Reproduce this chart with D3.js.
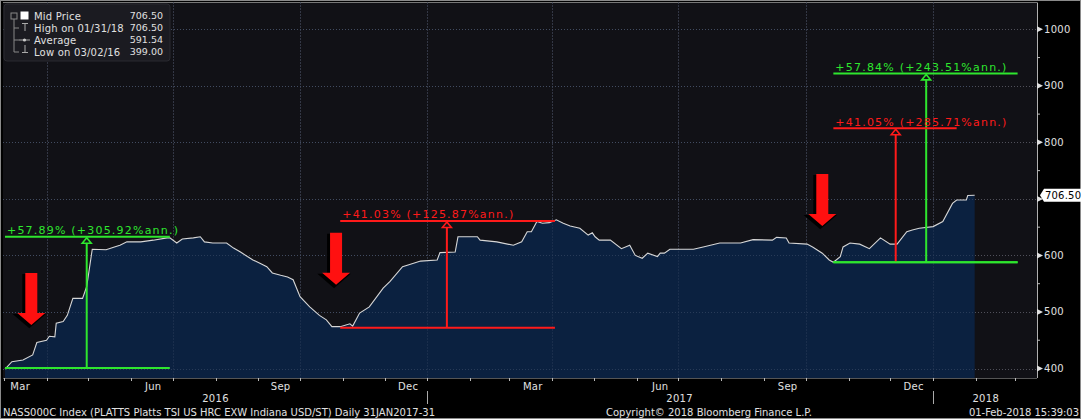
<!DOCTYPE html>
<html><head><meta charset="utf-8">
<script src="https://cdn.jsdelivr.net/npm/d3@7"></script>
<style>html,body{margin:0;padding:0;background:#000;overflow:hidden}svg{display:block}text{font-family:"DejaVu Sans",sans-serif}</style>
</head><body><svg id="c" width="1081" height="419"></svg>
<script>
// ---- data ----
const dates = ["2016-03-02","2016-03-07","2016-03-15","2016-03-22","2016-03-25","2016-04-01","2016-04-03","2016-04-07","2016-04-08","2016-04-13","2016-04-16","2016-04-20","2016-04-27","2016-04-30","2016-05-04","2016-05-14","2016-05-20","2016-05-24","2016-05-29","2016-06-08","2016-06-17","2016-06-27","2016-06-29","2016-07-04","2016-07-08","2016-07-16","2016-07-21","2016-07-24","2016-07-30","2016-08-09","2016-08-14","2016-08-19","2016-08-24","2016-08-28","2016-09-02","2016-09-07","2016-09-11","2016-09-17","2016-09-22","2016-09-26","2016-10-01","2016-10-08","2016-10-15","2016-10-20","2016-10-24","2016-10-30","2016-11-06","2016-11-08","2016-11-13","2016-11-20","2016-11-30","2016-12-05","2016-12-14","2016-12-18","2016-12-27","2017-01-08","2017-01-10","2017-01-21","2017-01-23","2017-02-06","2017-02-08","2017-02-20","2017-03-04","2017-03-10","2017-03-14","2017-03-17","2017-03-21","2017-03-25","2017-03-30","2017-04-04","2017-04-09","2017-04-14","2017-04-21","2017-04-27","2017-04-30","2017-05-02","2017-05-05","2017-05-13","2017-05-21","2017-05-27","2017-05-31","2017-06-05","2017-06-09","2017-06-16","2017-06-18","2017-06-21","2017-06-25","2017-07-12","2017-07-19","2017-07-31","2017-08-15","2017-08-24","2017-09-07","2017-09-10","2017-09-17","2017-09-19","2017-10-02","2017-10-06","2017-10-13","2017-10-18","2017-10-21","2017-10-26","2017-10-28","2017-11-02","2017-11-09","2017-11-16","2017-11-24","2017-12-01","2017-12-06","2017-12-13","2017-12-17","2017-12-22","2018-01-01","2018-01-08","2018-01-15","2018-01-18","2018-01-25","2018-01-26","2018-01-31"];
const prices = [399,412,415,424,446,450,457,456,480,483,494,524,524,545,611,610,615,618,624,624,627,631,631,622,629,631,633,624,622,622,613,606,598,592,586,580,569,565,562,557,527,509,494,486,474,474,479,475,498,509,542,554,580,583,590,592,605,606,633,633,627,624,618,624,642,642,660,657,658,663,657,652,648,636,640,633,627,627,612,618,600,595,604,598,604,604,611,611,615,622,622,628,627,632,631,622,620,615,604,592,588,598,615,622,620,612,631,620,620,642,645,648,651,660,692,698,698,706,706.5];

const yTicks = [400,500,600,700,800,900,1000];
const yMinor = [450,550,650,750,850,950];
const monthLabels = ["Mar","Jun","Sep","Dec","Mar","Jun","Sep","Dec"];
const monthLabelDates = ["2016-03-13","2016-06-17","2016-09-17","2016-12-18","2017-03-18","2017-06-18","2017-09-18","2017-12-18"];
const yearLabels = ["2016","2017","2018"];
const yearLabelDates = ["2016-08-01","2017-07-02","2018-02-08"];

const legendLabels = ["Mid Price","High on 01/31/18","Average","Low on 03/02/16"];
const legendValues = ["706.50","706.50","591.54","399.00"];
const lastPrice = "706.50";

// measurement annotations
const moveText  = ["+57.89% (+305.92%ann.)","+41.03% (+125.87%ann.)","+57.84% (+243.51%ann.)","+41.05% (+285.71%ann.)"];
const moveColor = ["#2ee62e","#ff1a1a","#2ee62e","#ff1a1a"];
const moveStart = ["2016-03-02","2016-10-30","2017-10-21","2017-10-21"];
const moveEnd   = ["2016-06-29","2017-04-03","2018-03-03","2018-01-18"];
const moveMark  = ["2016-04-30","2017-01-15","2017-12-27","2017-12-05"];
const moveBase  = [401,472,588,588];
const moveTop   = [633,661,922,825];

// red down arrows
const arrowDates = ["2016-03-21","2016-10-27","2017-10-13"];
const arrowTops  = [569,640,744];

const footLeft = "NASS000C Index (PLATTS Platts TSI US HRC EXW Indiana USD/ST)  Daily 31JAN2017-31";
const footMid = "Copyright\u00a9 2018 Bloomberg Finance L.P.";
const footRight = "01-Feb-2018 15:39:03";

// ---- chart ----
const parse = d3.timeParse("%Y-%m-%d");
const svg = d3.select("#c");
const W = 1081, H = 419;
const L = 3, R = 1037, T = 2.5, B = 378;

const x = d3.scaleTime().domain([parse("2016-03-01"), parse("2018-03-17")]).range([3.6, 1037]);
const y = d3.scaleLinear().domain([400, 1000]).range([368.5, 29.3]);

const series = dates.map((d, i) => ({d: parse(d), v: prices[i]}));

svg.append("rect").attr("width", W).attr("height", H).attr("fill", "#000");
svg.append("rect").attr("x", 0.5).attr("y", 0.5).attr("width", W - 1).attr("height", H - 1)
  .attr("fill", "none").attr("stroke", "#8a8a8a");
svg.append("rect").attr("x", L).attr("y", T).attr("width", R - L).attr("height", B - T)
  .attr("fill", "#111116");
svg.append("line").attr("x1", L).attr("x2", R).attr("y1", T).attr("y2", T).attr("stroke", "#777");

// grid
const grid = svg.append("g").attr("stroke", "#50505a").attr("stroke-dasharray", "1,2").attr("stroke-width", 1);
yTicks.forEach(t => grid.append("line").attr("x1", L).attr("x2", R)
  .attr("y1", Math.round(y(t)) + 0.5).attr("y2", Math.round(y(t)) + 0.5));
x.ticks(d3.timeMonth.every(3)).forEach(t => grid.append("line")
  .attr("x1", Math.round(x(t)) + 0.5).attr("x2", Math.round(x(t)) + 0.5).attr("y1", T).attr("y2", B));

// area + line
const area = d3.area().x(p => x(p.d)).y0(B).y1(p => y(p.v));
svg.append("path").datum(series).attr("d", area).attr("fill", "#0c2342").attr("fill-opacity", 0.95);
const grid2 = svg.append("g").attr("stroke", "#3a4a66").attr("stroke-dasharray", "1,2").attr("stroke-width", 1).attr("opacity", 0.6);
yTicks.forEach(t => grid2.append("line").attr("x1", L).attr("x2", x(series[series.length-1].d))
  .attr("y1", Math.round(y(t)) + 0.5).attr("y2", Math.round(y(t)) + 0.5));
x.ticks(d3.timeMonth.every(3)).forEach(t => grid2.append("line")
  .attr("x1", Math.round(x(t)) + 0.5).attr("x2", Math.round(x(t)) + 0.5).attr("y1", T).attr("y2", B));
const line = d3.line().x(p => x(p.d)).y(p => y(p.v));
svg.append("path").datum(series).attr("d", line).attr("fill", "none").attr("stroke", "#d6d6d6").attr("stroke-width", 1.1);

// annotations
const ann = svg.append("g");
moveText.forEach((txt, i) => {
  const c = moveColor[i];
  const x0 = x(parse(moveStart[i])), x1 = x(parse(moveEnd[i])), xm = x(parse(moveMark[i]));
  const yb = y(moveBase[i]), yt = y(moveTop[i]);
  const g = ann.append("g");
  if (i !== 3) g.append("line").attr("x1", x0).attr("x2", x1).attr("y1", yb).attr("y2", yb).attr("stroke", c).attr("stroke-width", 2);
  g.append("line").attr("x1", x0).attr("x2", x1).attr("y1", yt).attr("y2", yt).attr("stroke", c).attr("stroke-width", 2);
  g.append("line").attr("x1", xm).attr("x2", xm).attr("y1", yb).attr("y2", yt + 6).attr("stroke", c).attr("stroke-width", 2);
  g.append("path").attr("d", `M${xm-4.5},${yt+6.5} L${xm},${yt+1} L${xm+4.5},${yt+6.5} Z`)
    .attr("fill", "#111116").attr("stroke", c).attr("stroke-width", 1.6);
  g.append("text").attr("x", x0 + 2).attr("y", yt - 2.5).attr("fill", c)
    .attr("font-size", 11).attr("textLength", 171).attr("lengthAdjust", "spacing").text(txt);
});
{
  const x0 = x(parse(moveStart[2])), x1 = x(parse(moveEnd[2])), yb = y(moveBase[2]);
  ann.append("line").attr("x1", x0).attr("x2", x1).attr("y1", yb).attr("y2", yb).attr("stroke", moveColor[2]).attr("stroke-width", 2);
}

// arrows
const arrowPts = (cx, t) => [[cx-6,t],[cx+6,t],[cx+6,t+40],[cx+14,t+40],[cx,t+52],[cx-14,t+40],[cx-6,t+40]];
arrowDates.forEach((d, i) => {
  const cx = x(parse(d)), t = y(arrowTops[i]);
  const pts = arrowPts(cx, t);
  svg.append("polygon").attr("points", pts.map(p => [p[0]-2, p[1]+2].join(",")).join(" "))
    .attr("fill", "#000").attr("stroke", "#000").attr("stroke-width", 2);
  svg.append("polygon").attr("points", pts.map(p => p.join(",")).join(" ")).attr("fill", "#ff1010");
});

// legend
const lg = svg.append("g");
lg.append("rect").attr("x", 4).attr("y", 4).attr("width", 166).attr("height", 57).attr("rx", 3)
  .attr("fill", "#1b1b21").attr("stroke", "#2a2a30");
const rowsY = [16, 28, 40, 52];
lg.append("rect").attr("x", 11).attr("y", 13).attr("width", 6).attr("height", 6).attr("fill", "none").attr("stroke", "#888");
lg.append("rect").attr("x", 20.5).attr("y", 11.5).attr("width", 8).attr("height", 8).attr("fill", "#fff");
lg.append("line").attr("x1", 14).attr("x2", 14).attr("y1", 19).attr("y2", 52).attr("stroke", "#888");
[28, 40, 52].forEach(r => lg.append("line").attr("x1", 14).attr("x2", 19).attr("y1", r).attr("y2", r).attr("stroke", "#888"));
lg.append("path").attr("d", "M22,23.5 H28 M25,23.5 V31").attr("stroke", "#aaa").attr("fill", "none");
lg.append("path").attr("d", "M19,40 H30").attr("stroke", "#aaa");
lg.append("circle").attr("cx", 24.5).attr("cy", 40).attr("r", 1.6).attr("fill", "#ccc");
lg.append("path").attr("d", "M25,45 V52.5 M22,52.5 H28").attr("stroke", "#aaa").attr("fill", "none");
legendLabels.forEach((l, i) => {
  lg.append("text").attr("x", 34).attr("y", rowsY[i]).attr("dy", "0.35em").attr("fill", "#e0e0e0")
    .attr("font-size", 10).attr("letter-spacing", 0.2).text(l);
  lg.append("text").attr("x", 163).attr("y", rowsY[i]).attr("dy", "0.35em").attr("fill", "#e0e0e0")
    .attr("font-size", 9.5).attr("text-anchor", "end").text(legendValues[i]);
});

// right axis
svg.append("line").attr("x1", R + 0.5).attr("x2", R + 0.5).attr("y1", T).attr("y2", B).attr("stroke", "#b0b0b0");
svg.append("line").attr("x1", L).attr("x2", R).attr("y1", B + 0.5).attr("y2", B + 0.5).attr("stroke", "#555");
yTicks.forEach(t => {
  const yy = y(t);
  svg.append("path").attr("d", `M${R},${yy-3} L${R+6},${yy} L${R},${yy+3} Z`).attr("fill", "#e0e0e0");
  if (t !== 700) svg.append("text").attr("x", R + 7).attr("y", yy).attr("dy", "0.35em").attr("fill", "#e0e0e0")
    .attr("font-size", 10).attr("letter-spacing", 0.3).text(t);
});
yMinor.forEach(t => svg.append("line").attr("x1", R).attr("x2", R + 3).attr("y1", y(t)).attr("y2", y(t)).attr("stroke", "#bbb"));

// last price tag
{
  const yy = y(706.5);
  svg.append("path").attr("d", `M1040,${yy} L1044,${yy-6.5} L1081,${yy-6.5} L1081,${yy+6.5} L1044,${yy+6.5} Z`).attr("fill", "#fff");
  svg.append("text").attr("x", 1045).attr("y", yy).attr("dy", "0.36em").attr("fill", "#000")
    .attr("font-size", 10).attr("letter-spacing", 0.2).text(lastPrice);
}

// bottom axis
x.ticks(d3.timeMonth.every(1)).forEach(t => svg.append("line")
  .attr("x1", Math.round(x(t)) + 0.5).attr("x2", Math.round(x(t)) + 0.5).attr("y1", B).attr("y2", B + 3).attr("stroke", "#bbb"));
monthLabels.forEach((m, i) => svg.append("text").attr("x", x(parse(monthLabelDates[i]))).attr("y", 386.5)
  .attr("dy", "0.35em").attr("text-anchor", "middle").attr("fill", "#e0e0e0").attr("font-size", 10).attr("letter-spacing", 0.3).text(m));
yearLabels.forEach((m, i) => svg.append("text").attr("x", x(parse(yearLabelDates[i]))).attr("y", 398)
  .attr("dy", "0.35em").attr("text-anchor", "middle").attr("fill", "#e0e0e0").attr("font-size", 10).attr("letter-spacing", 0.3).text(m));
["2017-01-01", "2018-01-01"].forEach(d => svg.append("line").attr("x1", Math.round(x(parse(d))) + 0.5).attr("x2", Math.round(x(parse(d))) + 0.5)
  .attr("y1", 391).attr("y2", 404).attr("stroke", "#aaa"));

// footer
svg.append("text").attr("x", 3).attr("y", 412.5).attr("dy", "0.35em").attr("fill", "#e0e0e0").attr("font-size", 10)
  .attr("textLength", 432).attr("lengthAdjust", "spacing").text(footLeft);
svg.append("text").attr("x", 606).attr("y", 412.5).attr("dy", "0.35em").attr("fill", "#e0e0e0").attr("font-size", 10)
  .attr("textLength", 206).attr("lengthAdjust", "spacing").text(footMid);
svg.append("text").attr("x", 969).attr("y", 412.5).attr("dy", "0.35em").attr("fill", "#e0e0e0").attr("font-size", 10)
  .attr("textLength", 110).attr("lengthAdjust", "spacing").text(footRight);
</script></body></html>
